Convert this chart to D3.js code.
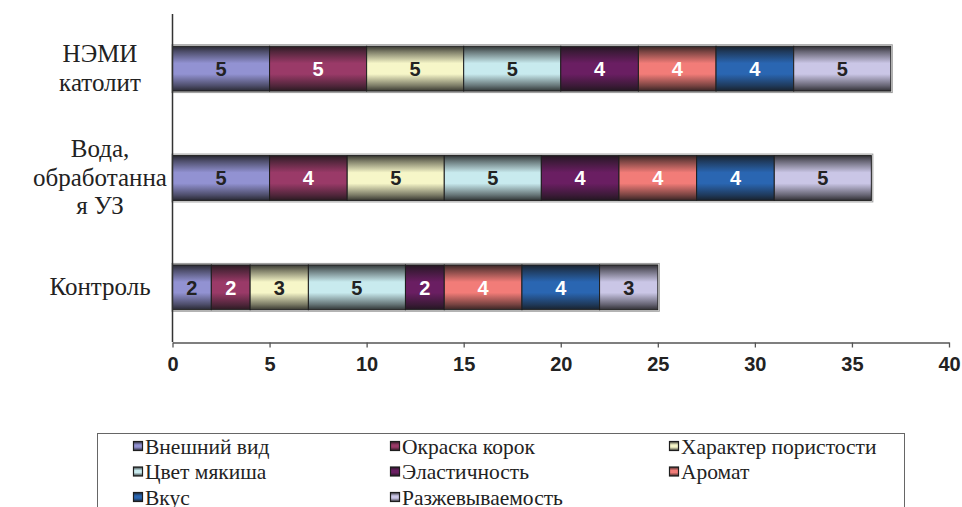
<!DOCTYPE html>
<html>
<head>
<meta charset="utf-8">
<script src="https://cdn.jsdelivr.net/npm/d3@7"></script>
<style>
  html, body { margin: 0; padding: 0; background: #fff; }
  svg { display: block; }
</style>
</head>
<body>
<svg id="chart" width="962" height="507"></svg>
<script>
// Category groups (top to bottom), each label split into lines
const categories = ["НЭМИ католит", "Вода, обработанная УЗ", "Контроль"];
const categoryLines = [["НЭМИ", "католит"], ["Вода,", "обработанна", "я УЗ"], ["Контроль"]];

// Quality indicators (stack order, left to right)
const seriesNames = ["Внешний вид", "Окраска корок", "Характер пористости", "Цвет мякиша",
                     "Эластичность", "Аромат", "Вкус", "Разжевываемость"];
const seriesColors = ["#9292d2", "#9a3a68", "#f6f6c8", "#c8eaee",
                      "#6a1e62", "#f27c78", "#2a66b2", "#cac6e6"];
const labelColors = ["#222", "#fff", "#222", "#222", "#fff", "#fff", "#fff", "#222"];

// Scores per category, in series order
const scoresNemi    = [5, 5, 5, 5, 4, 4, 4, 5];
const scoresWater   = [5, 4, 5, 5, 4, 4, 4, 5];
const scoresControl = [2, 2, 3, 5, 2, 4, 4, 3];
const scores = [scoresNemi, scoresWater, scoresControl];

const xTicks = [0, 5, 10, 15, 20, 25, 30, 35, 40];

const SERIF = "Liberation Serif";
const SANS = "Liberation Sans";

const svg = d3.select("#chart");

const x = d3.scaleLinear().domain([0, 40]).range([172.5, 949]);
const y = d3.scaleBand().domain(categories).range([14, 342])
  .paddingInner(0.59).paddingOuter(0.295);

// Vertical shading for each colour: dark edges, lighter middle
const defs = svg.append("defs");
seriesColors.forEach((c, i) => {
  const dark = d3.interpolateRgb(c, "#161616");
  const g = defs.append("linearGradient").attr("id", "grad" + i)
    .attr("x1", 0).attr("y1", 0).attr("x2", 0).attr("y2", 1);
  g.append("stop").attr("offset", "0%").attr("stop-color", dark(0.85));
  g.append("stop").attr("offset", "12%").attr("stop-color", dark(0.55));
  g.append("stop").attr("offset", "38%").attr("stop-color", c);
  g.append("stop").attr("offset", "62%").attr("stop-color", c);
  g.append("stop").attr("offset", "88%").attr("stop-color", dark(0.55));
  g.append("stop").attr("offset", "100%").attr("stop-color", dark(0.85));
});

// Stack the scores
const rows = categories.map((cat, ci) => {
  const obj = { cat };
  seriesNames.forEach((s, si) => obj[s] = scores[ci][si]);
  return obj;
});
const stacked = d3.stack().keys(seriesNames)(rows);

// Light outline around each whole bar
categories.forEach((cat, ci) => {
  const total = d3.sum(scores[ci]);
  svg.append("rect")
    .attr("x", x(0) - 0.5).attr("y", y(cat) - 1.5)
    .attr("width", x(total) - x(0) + 2).attr("height", y.bandwidth() + 3)
    .attr("fill", "none").attr("stroke", "#9a9a9a").attr("stroke-width", 1);
});

// Segments
stacked.forEach((layer, si) => {
  const g = svg.append("g");
  g.selectAll("rect").data(layer).join("rect")
    .attr("x", d => x(d[0]))
    .attr("y", d => y(d.data.cat))
    .attr("width", d => x(d[1]) - x(d[0]))
    .attr("height", y.bandwidth())
    .attr("fill", `url(#grad${si})`)
    .attr("stroke", "#1e1e1e").attr("stroke-width", 1);
  g.selectAll("text").data(layer).join("text")
    .attr("font-family", SANS)
    .attr("x", d => (x(d[0]) + x(d[1])) / 2)
    .attr("y", d => y(d.data.cat) + y.bandwidth() / 2)
    .attr("dy", "0.36em")
    .attr("text-anchor", "middle")
    .attr("font-weight", "bold").attr("font-size", 20)
    .attr("fill", labelColors[si])
    .text(d => d[1] - d[0]);
});

// Vertical axis line
svg.append("line")
  .attr("x1", x(0)).attr("x2", x(0)).attr("y1", 14).attr("y2", 342)
  .attr("stroke", "#333").attr("stroke-width", 1.5);

// Horizontal axis
const xAxis = svg.append("g").attr("transform", "translate(0,342.5)")
  .call(d3.axisBottom(x).tickValues(xTicks).tickSize(5).tickPadding(9).tickSizeOuter(0));
xAxis.attr("font-family", SANS).attr("font-size", 20);
xAxis.select(".domain").attr("stroke", "#555").attr("stroke-width", 1.3);
xAxis.selectAll(".tick line").attr("stroke", "#555").attr("stroke-width", 1.3);
xAxis.selectAll(".tick text")
  .attr("font-weight", "bold").attr("fill", "#222");

// Category labels
categories.forEach((cat, ci) => {
  const lines = categoryLines[ci];
  const lh = 28.5;
  const cy = y(cat) + y.bandwidth() / 2 - 1;
  const t = svg.append("text")
    .attr("font-family", SERIF)
    .attr("text-anchor", "middle")
    .attr("font-size", 25).attr("fill", "#222");
  lines.forEach((ln, li) => {
    t.append("tspan").attr("x", 100)
      .attr("y", cy + (li - (lines.length - 1) / 2) * lh)
      .attr("dy", "0.35em").text(ln);
  });
});

// Legend
svg.append("rect").attr("x", 97.5).attr("y", 433.5).attr("width", 807).attr("height", 90)
  .attr("fill", "#fff").attr("stroke", "#666").attr("stroke-width", 1);
const colX = [133, 390, 669];
const rowY = [446, 471.5, 497];
seriesNames.forEach((s, i) => {
  const cx = colX[i % 3], cy = rowY[Math.floor(i / 3)];
  svg.append("rect").attr("x", cx + 0.5).attr("y", cy - 4.5).attr("width", 9).attr("height", 9)
    .attr("fill", `url(#grad${i})`).attr("stroke", "#1e1e1e").attr("stroke-width", 1.2);
  svg.append("text").attr("font-family", SERIF)
    .attr("x", cx + 12).attr("y", cy).attr("dy", "0.35em")
    .attr("font-size", 21.5).attr("fill", "#222").text(s);
});
</script>
</body>
</html>
